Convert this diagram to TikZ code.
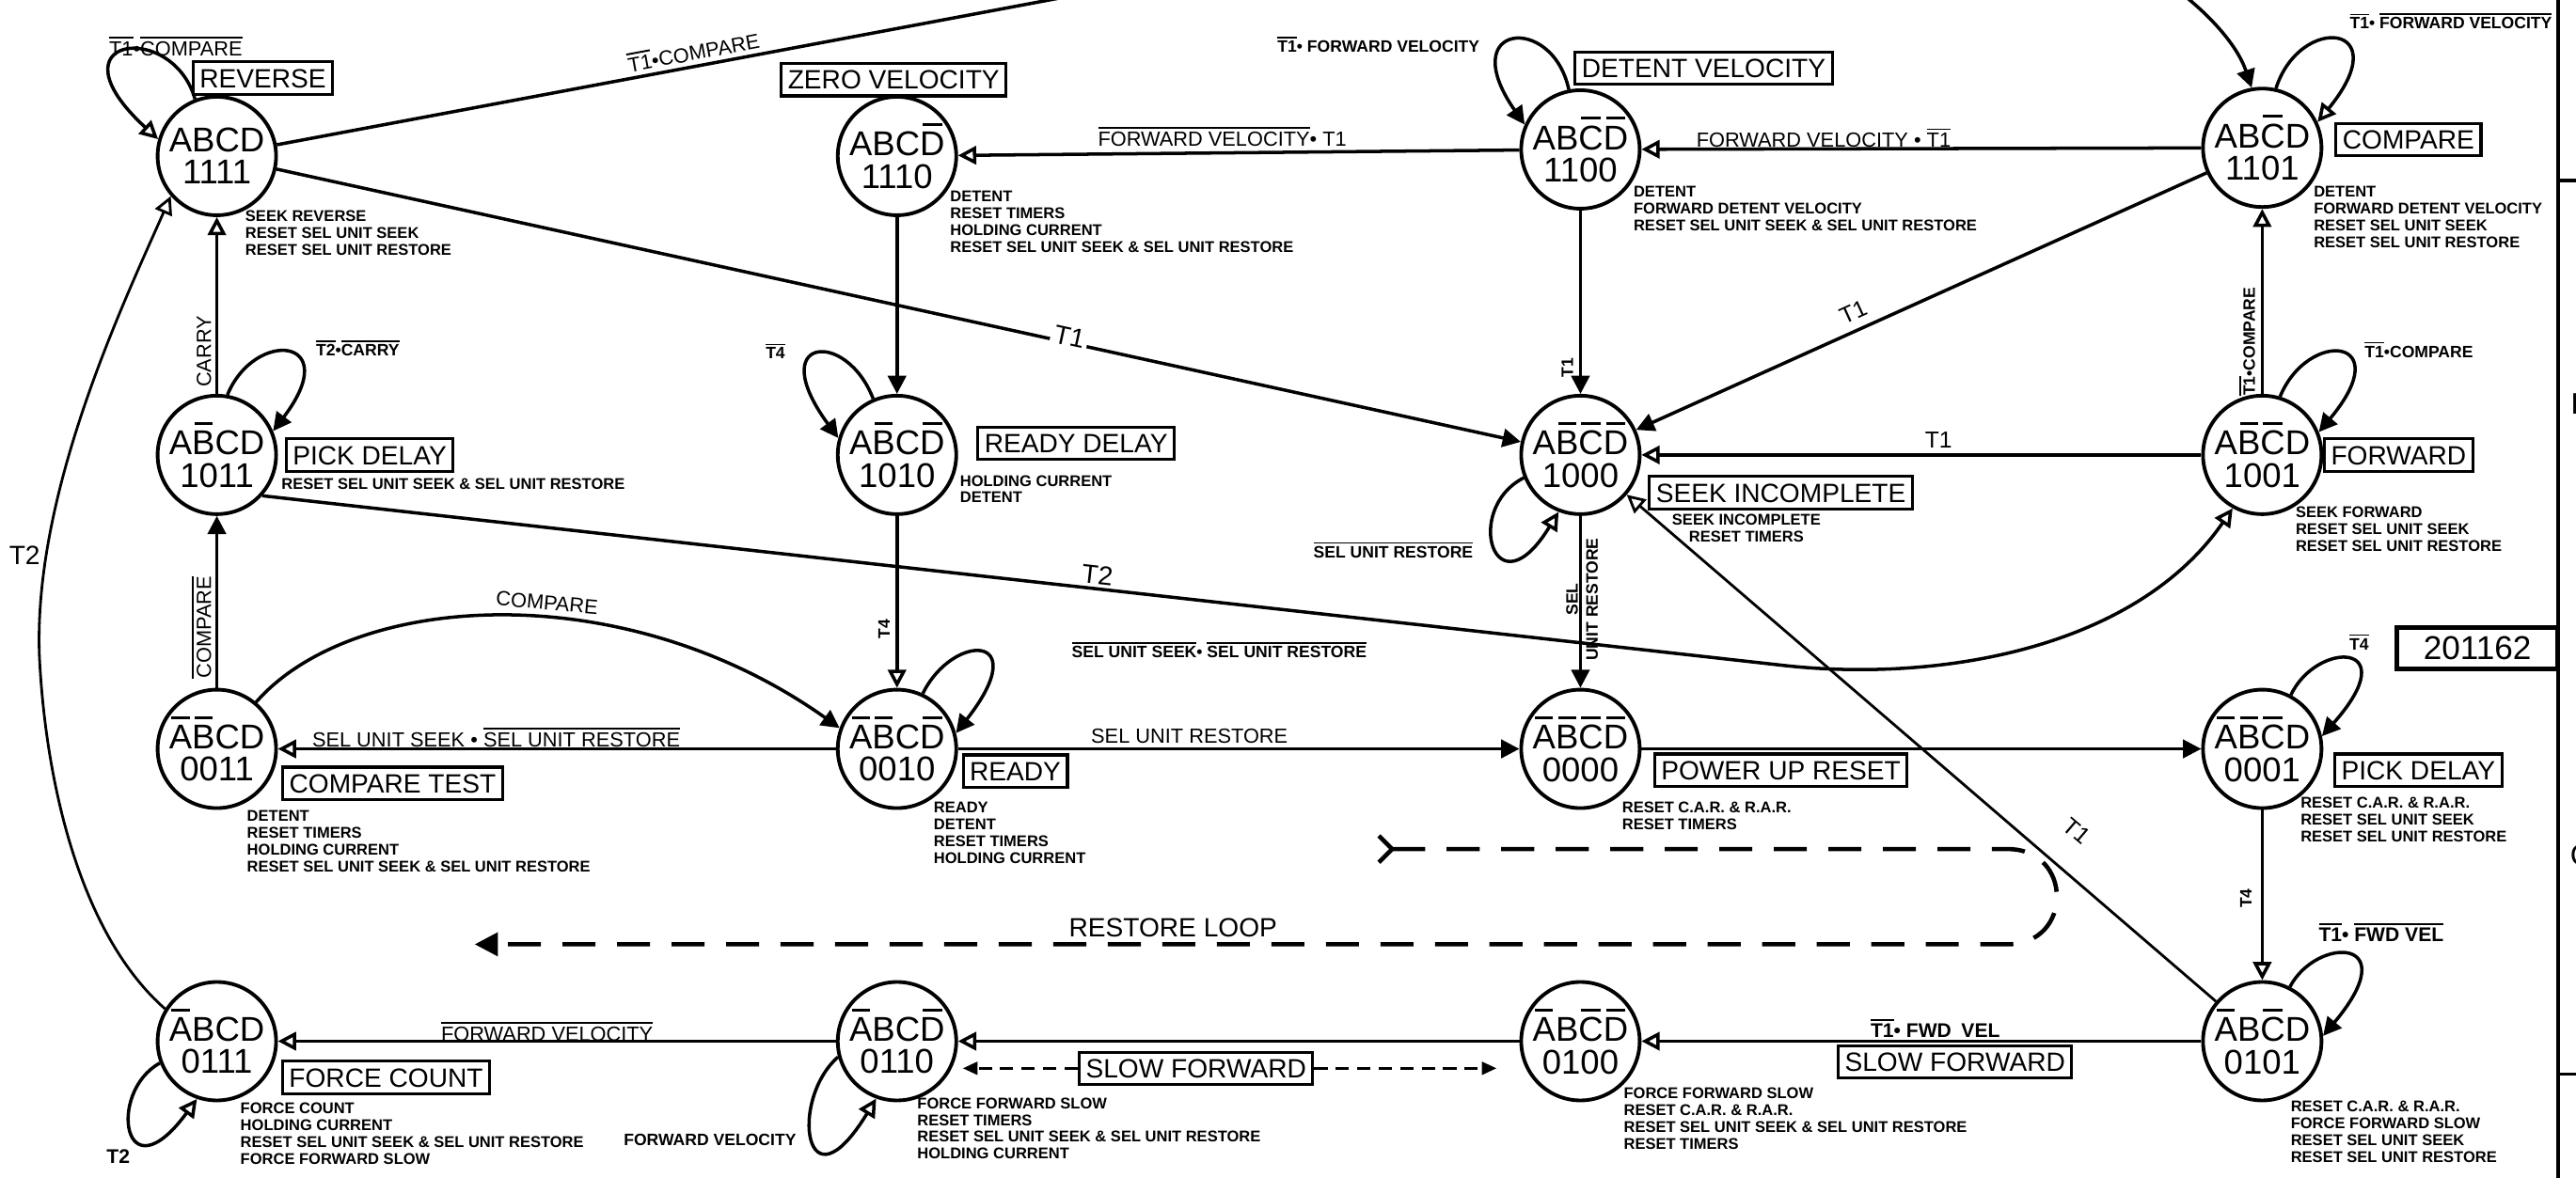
\documentclass[tikz,border=0pt]{standalone}
\usepackage{fontspec}
\setmainfont{Liberation Sans}
\usetikzlibrary{arrows.meta}

\newcommand\ob[1]{\setbox0\hbox{#1}\rlap{\hbox to\wd0{\hss\vrule height\dimexpr\ht0+0.26em\relax depth\dimexpr-\ht0-0.18em\relax width0.78\wd0\hss}}\box0}
\newcommand\ol[1]{\setbox0\hbox{#1}\rlap{\vrule height\dimexpr\ht0+0.24em\relax depth\dimexpr-\ht0-0.15em\relax width\wd0}\box0}
\newcommand\lit[2]{\ifnum#1=1 #2\else\ob{#2}\fi}
\newcommand\stcode[4]{\lit{#1}{A}\lit{#2}{B}\lit{#3}{C}\lit{#4}{D}\\#1#2#3#4}

\tikzset{
 st/.style={circle, draw, line width=1.1pt, minimum size=1.26cm, inner sep=0pt, align=center, font=\fontsize{10.4}{9.8}\selectfont},
 nm/.style={draw, line width=0.9pt, inner xsep=2pt, inner ysep=2pt, text height=5.8pt, text depth=0pt, font=\fontsize{8}{9}\selectfont},
 note/.style={anchor=north west, inner sep=0pt, align=left, font=\fontsize{4.7}{5.1}\selectfont\bfseries},
 lb/.style={inner sep=1pt, font=\fontsize{6.2}{7}\selectfont},
 lbs/.style={inner sep=1pt, font=\fontsize{5}{6}\selectfont\bfseries},
 lbt/.style={inner sep=1pt, font=\fontsize{8}{9}\selectfont},
 ed/.style={line width=1pt},
 sa/.style={ed, -{Triangle[length=5.5pt,width=5.5pt]}},
 oa/.style={ed, -{Triangle[open,length=5.5pt,width=5.5pt]}},
 restore/.style={line width=1.3pt, dash pattern=on 10pt off 6.5pt, {Straight Barb[reversed,length=4pt,width=8pt]}-{Triangle[length=7pt,width=7pt]}},
 sdash/.style={line width=1pt, dash pattern=on 4pt off 2.5pt, -{Triangle[length=4.5pt,width=3.8pt]}},
}

\begin{document}
\begin{tikzpicture}[x=0.01747cm, y=-0.01747cm]
\useasboundingbox[fill=white] (0,0) rectangle (1568,717);

% ---------- states ----------
\node[st] (s1111) at (132,95) {\stcode1111};
\node[st] (s1110) at (546,95) {\stcode1110};
\node[st] (s1100) at (962,91) {\stcode1100};
\node[st] (s1101) at (1377,90) {\stcode1101};
\node[st] (s1011) at (132,277) {\stcode1011};
\node[st] (s1010) at (546,277) {\stcode1010};
\node[st] (s1000) at (962,277) {\stcode1000};
\node[st] (s1001) at (1377,277) {\stcode1001};
\node[st] (s0011) at (132,456) {\stcode0011};
\node[st] (s0010) at (546,456) {\stcode0010};
\node[st] (s0000) at (962,456) {\stcode0000};
\node[st] (s0001) at (1377,456) {\stcode0001};
\node[st] (s0111) at (132,634) {\stcode0111};
\node[st] (s0110) at (546,634) {\stcode0110};
\node[st] (s0100) at (962,634) {\stcode0100};
\node[st] (s0101) at (1377,634) {\stcode0101};

% ---------- state names ----------
\node[nm] (nRev) at (160,47.5) {REVERSE};
\node[nm] (nZero) at (544,48.5) {ZERO VELOCITY};
\node[nm] (nDet) at (1037,41.5) {DETENT VELOCITY};
\node[nm] (nCmp) at (1466,85) {COMPARE};
\node[nm] (nPick1) at (225,277) {PICK DELAY};
\node[nm] (nRdyD) at (655,270) {READY DELAY};
\node[nm] (nSeek) at (1084,300) {SEEK INCOMPLETE};
\node[nm] (nFwd) at (1460,277) {FORWARD};
\node[nm] (nCmpT) at (239,477) {COMPARE TEST};
\node[nm] (nRdy) at (618,469.5) {READY};
\node[nm] (nPwr) at (1084,469) {POWER UP RESET};
\node[nm] (nPick2) at (1472,469) {PICK DELAY};
\node[nm] (nForce) at (235,656) {FORCE COUNT};
\node[nm] (nSlow1) at (728,650.5) {SLOW FORWARD};
\node[nm] (nSlow2) at (1190,646.5) {SLOW FORWARD};
\node[draw, line width=1.4pt, minimum width=1.71cm, minimum height=0.44cm, inner sep=0pt, font=\fontsize{10}{12}\selectfont] (nNum) at (1508,394.5) {201162};

% ---------- outputs ----------
\node[note] (t1111) at (149,128) {SEEK REVERSE\\RESET SEL UNIT SEEK\\RESET SEL UNIT RESTORE};
\node[note] (t1110) at (578,116) {DETENT\\RESET TIMERS\\HOLDING CURRENT\\RESET SEL UNIT SEEK \& SEL UNIT RESTORE};
\node[note] (t1100) at (994,113) {DETENT\\FORWARD DETENT VELOCITY\\RESET SEL UNIT SEEK \& SEL UNIT RESTORE};
\node[note] (t1101) at (1408,113) {DETENT\\FORWARD DETENT VELOCITY\\RESET SEL UNIT SEEK\\RESET SEL UNIT RESTORE};
\node[note] (t1011) at (171,291) {RESET SEL UNIT SEEK \& SEL UNIT RESTORE};
\node[note] (t1010) at (584,289) {HOLDING CURRENT\\DETENT};
\node[note, anchor=north, align=center] (t1000) at (1063,313) {SEEK INCOMPLETE\\RESET TIMERS};
\node[note] (t1001) at (1397,308) {SEEK FORWARD\\RESET SEL UNIT SEEK\\RESET SEL UNIT RESTORE};
\node[note] (t0011) at (150,493) {DETENT\\RESET TIMERS\\HOLDING CURRENT\\RESET SEL UNIT SEEK \& SEL UNIT RESTORE};
\node[note] (t0010) at (568,488) {READY\\DETENT\\RESET TIMERS\\HOLDING CURRENT};
\node[note] (t0000) at (987,488) {RESET C.A.R. \& R.A.R.\\RESET TIMERS};
\node[note] (t0001) at (1400,485) {RESET C.A.R. \& R.A.R.\\RESET SEL UNIT SEEK\\RESET SEL UNIT RESTORE};
\node[note] (t0111) at (146,671) {FORCE COUNT\\HOLDING CURRENT\\RESET SEL UNIT SEEK \& SEL UNIT RESTORE\\FORCE FORWARD SLOW};
\node[note] (t0110) at (558,668) {FORCE FORWARD SLOW\\RESET TIMERS\\RESET SEL UNIT SEEK \& SEL UNIT RESTORE\\HOLDING CURRENT};
\node[note] (t0100) at (988,662) {FORCE FORWARD SLOW\\RESET C.A.R. \& R.A.R.\\RESET SEL UNIT SEEK \& SEL UNIT RESTORE\\RESET TIMERS};
\node[note] (t0101) at (1394,670) {RESET C.A.R. \& R.A.R.\\FORCE FORWARD SLOW\\RESET SEL UNIT SEEK\\RESET SEL UNIT RESTORE};

% ---------- helper coordinates ----------
\coordinate (top1) at (692,-10);
\coordinate (top2) at (1320,-10);
\coordinate (t2a) at (1084,405);
\coordinate (t2m) at (24,400);
\coordinate (rl1) at (838,517);
\coordinate (rla) at (1222,517);
\coordinate (rlb) at (1222,575);
\coordinate (rl2) at (289,575);
\coordinate (sfl) at (586,650.5);
\coordinate (sfr) at (911,650.5);

% ---------- transitions ----------
\draw[sa] (s1111) -- (top1) -- (top2) .. controls (1345,8) and (1362,28) .. (s1101.100);
\draw[oa] (s1100) -- (s1110);
\draw[oa] (s1101) -- (s1100);
\draw[sa] (s1110) -- (s1010);
\draw[sa] (s1100) -- (s1000);
\draw[sa] (s1101) -- (s1000);
\draw[oa] (s1001) -- (s1000);
\draw[oa] (s1001) -- (s1101);
\draw[oa] (s1011) -- (s1111);
\draw[sa] (s0011) -- (s1011);
\draw[sa] (s1111) -- (s1000);
\draw[oa] (s1011.-42) -- (t2a) .. controls (1180,416) and (1300,395) .. (s1001.241);
\draw[oa] (s1010) -- (s0010);
\draw[oa] (s0010) -- (s0011);
\draw[sa] (s0011.50) .. controls (215,360) and (380,350) .. (s0010.160);
\draw[sa] (s0010) -- (s0000);
\draw[sa] (s1000) -- (s0000);
\draw[sa] (s0000) -- (s0001);
\draw[oa] (s0001) -- (s0101);
\draw[oa, line width=0.8pt] (s0101) -- (s1000);
\draw[oa] (s0101) -- (s0100);
\draw[oa] (s0100) -- (s0110);
\draw[oa] (s0110) -- (s0111);
\draw[oa, line width=0.8pt] (s0111.148) .. controls (50,570) and (28,480) .. (t2m) .. controls (20,300) and (75,185) .. (s1111.221);

% self loops
\draw[oa] (s1111.111) .. controls (105,12) and (28,22) .. (s1111.164);
\draw[sa] (s1100.101) .. controls (945,8) and (885,14) .. (s1100.156);
\draw[oa] (s1101.77) .. controls (1400,8) and (1460,14) .. (s1101.25);
\draw[sa] (s1011.80) .. controls (155,200) and (210,205) .. (s1011.23);
\draw[sa] (s1010.113) .. controls (515,200) and (465,205) .. (s1010.164);
\draw[oa] (s1000.202) .. controls (890,310) and (910,375) .. (s1000.249);
\draw[sa] (s1001.73) .. controls (1405,200) and (1460,205) .. (s1001.22);
\draw[sa] (s0010.65) .. controls (580,385) and (630,385) .. (s0010.15);
\draw[sa] (s0001.62) .. controls (1410,390) and (1465,390) .. (s0001.12);
\draw[sa] (s0101.63) .. controls (1410,570) and (1465,570) .. (s0101.5);
\draw[oa] (s0111.201) .. controls (65,665) and (75,730) .. (s0111.251);
\draw[oa] (s0110.195) .. controls (480,670) and (490,740) .. (s0110.250);

% restore loop and slow forward
\draw[restore] (rl1) -- (rla) .. controls (1262,517) and (1262,575) .. (rlb) -- (rl2);
\draw[sdash] (nSlow1.west) -- (sfl);
\draw[sdash] (nSlow1.east) -- (sfr);

% ---------- transition labels ----------
\node[lb, rotate=10.6] (l1) at (422,31) {\ol{T1}•COMPARE};
\node[lb] (l2) at (107,28) {\ol{T1}•\ol{COMPARE}};
\node[lbs, anchor=east] (l3) at (903,27) {\ol{T1}• FORWARD VELOCITY};
\node[lbs, anchor=west] (l4) at (1428,13) {\ol{T1}• \ol{FORWARD VELOCITY}};
\node[lb] (l5) at (744,83) {\ol{FORWARD VELOCITY} • T1};
\node[lb] (l6) at (1110,84) {FORWARD VELOCITY • \ol{T1}};
\node[lbs, rotate=90, anchor=south] (l7) at (960,224) {T1};
\node[lbt, rotate=24.4, font=\fontsize{7}{8}\selectfont] (l8) at (1128,190) {T1};
\node[lbt, font=\fontsize{7}{8}\selectfont] (l9) at (1180,268) {T1};
\node[lbs, rotate=90, anchor=south] (l10) at (1375,208) {\ol{T1}•COMPARE};
\node[lbs, anchor=west] (l11) at (1437,213) {\ol{T1}•COMPARE};
\node[lbs, anchor=west] (l12) at (190,212) {\ol{T2}•\ol{CARRY}};
\node[lb, rotate=90, anchor=south] (l13) at (131,214) {CARRY};
\node[lb, rotate=90, anchor=south] (l14) at (131,382) {\ol{COMPARE}};
\node[lbt, fill=white, rotate=-12.3] (l15) at (651,205) {T1};
\node[lbt, rotate=-6.4] (l16) at (668,350) {T2};
\node[lbs] (l17) at (472,214) {\ol{T4}};
\node[lbs, rotate=90, anchor=south] (l18) at (544,383) {T4};
\node[lbs, anchor=east] (l19) at (899,335) {\ol{SEL UNIT RESTORE}};
\node[lbs, rotate=90, align=center] (l20) at (963,365) {SEL\\UNIT RESTORE};
\node[lb, rotate=-5] (l21) at (333,367) {COMPARE};
\node[lb] (l22) at (302,449) {SEL UNIT SEEK • \ol{SEL UNIT RESTORE}};
\node[lbs, anchor=west] (l23) at (650,396) {\ol{SEL UNIT SEEK} • \ol{SEL UNIT RESTORE}};
\node[lb] (l24) at (724,448) {SEL UNIT RESTORE};
\node[lbs] (l25) at (1436,391) {\ol{T4}};
\node[lbs, rotate=90, anchor=south] (l26) at (1373,547) {T4};
\node[lbt, rotate=-40.4, font=\fontsize{7}{8}\selectfont] (l27) at (1264,506) {T1};
\node[lbs, anchor=west, font=\fontsize{6}{7}\selectfont\bfseries] (l28) at (1409,568) {\ol{T1}• \ol{FWD VEL}};
\node[lbs, font=\fontsize{6}{7}\selectfont\bfseries] (l29) at (1178,626) {\ol{T1}• FWD\enspace VEL};
\node[lb] (l30) at (333,628) {\ol{FORWARD VELOCITY}};
\node[lbs, anchor=east] (l31) at (487,694) {FORWARD VELOCITY};
\node[lbs, font=\fontsize{6}{7}\selectfont\bfseries] (l32) at (72,704) {T2};
\node[lbt] (l33) at (15,338) {T2};
\node[lbt] (l34) at (714,565) {RESTORE LOOP};

% ---------- sheet border ----------
\draw[line width=1.2pt] (1557,-5) -- (1557,725);
\draw[line width=1pt] (1557,110) -- (1575,110);
\draw[line width=1pt] (1557,654) -- (1575,654);
\node[font=\fontsize{9}{10}\selectfont] (zB) at (1571,246) {B};
\node[font=\fontsize{9}{10}\selectfont] (zC) at (1571,521) {C};
\end{tikzpicture}
\end{document}
